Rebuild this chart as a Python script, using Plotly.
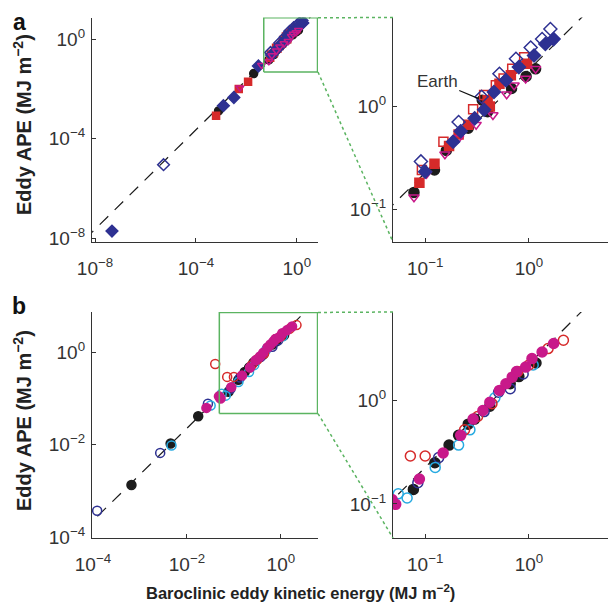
import math
import plotly.graph_objects as go

# ---------------- data ----------------
# Panel a (EKE, APE in MJ m^-2)
A_BLACK_X = [7.9e-4, 0.0195, 0.078, 0.123, 0.16, 0.26, 0.355, 0.40, 0.68, 0.94, 1.16]
A_BLACK_Y = [1.3e-3, 0.041, 0.145, 0.24, 0.37, 0.61, 1.14, 0.88, 1.48, 1.94, 2.3]
A_RED_X = [6.3e-4, 5.0e-3, 0.0117, 0.088, 0.123, 0.17, 0.21, 0.26, 0.40, 0.42, 0.52, 0.67, 0.96]
A_RED_Y = [8.3e-4, 9.8e-3, 0.0195, 0.18, 0.275, 0.41, 0.53, 0.66, 1.14, 0.99, 1.65, 1.99, 2.57]
A_REDO_X = [0.093, 0.15, 0.29, 0.37, 0.48, 0.57, 0.69, 0.90]
A_REDO_Y = [0.24, 0.45, 0.93, 1.28, 1.59, 1.85, 2.3, 2.98]
A_NAVY_X = [4.7e-8, 1.23e-3, 3.2e-3, 0.030, 0.10, 0.186, 0.22, 0.30, 0.37, 0.46, 0.60, 0.80, 1.12, 1.44, 1.73]
A_NAVY_Y = [1.9e-8, 2.1e-3, 4.5e-3, 0.083, 0.23, 0.45, 0.57, 0.76, 0.92, 1.37, 1.78, 2.39, 3.1, 4.0, 4.47]
A_NAVYO_X = [5.2e-6, 0.091, 0.21, 0.35, 0.52, 0.75, 1.04, 1.34, 1.61]
A_NAVYO_Y = [8.9e-6, 0.29, 0.70, 1.23, 2.06, 2.88, 3.7, 4.47, 5.6]
A_MAG_X = [5.5e-3, 0.04, 0.078, 0.103, 0.155, 0.21, 0.31, 0.45, 0.61, 0.72, 0.93, 1.16]
A_MAG_Y = [1.1e-2, 0.09, 0.13, 0.22, 0.34, 0.49, 0.66, 0.82, 1.3, 1.59, 1.85, 2.3]

# Panel b
B_BLACK_X = [6.6e-4, 4.5e-3, 0.0174, 0.077, 0.124, 0.17, 0.21, 0.26, 0.30, 0.42, 0.66, 0.80, 1.17]
B_BLACK_Y = [1.34e-3, 0.0105, 0.041, 0.138, 0.25, 0.37, 0.46, 0.59, 0.66, 0.88, 1.45, 1.7, 2.3]
B_NAVY_X = [1.23e-4, 2.7e-3, 0.028, 0.085, 0.135, 0.37, 0.51, 0.66, 0.88]
B_NAVY_Y = [3.7e-4, 6.6e-3, 0.076, 0.16, 0.28, 0.78, 1.2, 1.3, 1.8]
B_CYAN_X = [4.7e-3, 0.032, 0.055, 0.067, 0.125, 0.21, 0.27, 0.47, 1.1]
B_CYAN_Y = [9.5e-3, 0.07, 0.125, 0.114, 0.225, 0.37, 0.52, 1.06, 2.2]
B_RED_X = [0.04, 0.072, 0.10, 0.24, 0.32, 0.44, 0.78, 1.0, 1.53, 2.15]
B_RED_Y = [0.55, 0.29, 0.29, 0.52, 0.70, 0.93, 1.9, 2.2, 3.17, 3.82]
B_MAG_X = [0.026, 0.048, 0.052, 0.088, 0.149, 0.22, 0.29, 0.36, 0.42, 0.52, 0.60, 0.69, 0.76, 0.93, 1.07, 1.34, 1.73]
B_MAG_Y = [0.062, 0.11, 0.099, 0.174, 0.31, 0.46, 0.66, 0.8, 0.96, 1.25, 1.45, 1.68, 1.9, 2.1, 2.54, 2.94, 3.55]

# reference line APE = ratio * EKE
REF_RATIO = 2.25
REF_X = [1e-9, 1e1]

EARTH = (0.355, 1.14)

# tick labels
A_LEFT_TICKS = [1e-8, 1e-4, 1e0]
A_LEFT_TEXT = ["10<sup>\u22128</sup>", "10<sup>\u22124</sup>", "10<sup>0</sup>"]
B_LEFT_TICKS = [1e-4, 1e-2, 1e0]
B_LEFT_TEXT = ["10<sup>\u22124</sup>", "10<sup>\u22122</sup>", "10<sup>0</sup>"]
ZOOM_TICKS = [1e-1, 1e0]
ZOOM_TEXT = ["10<sup>\u22121</sup>", "10<sup>0</sup>"]

# ---------------- layout geometry ----------------
W, H = 616, 607
OFF = 8  # page body margin that shifts the figure on screen


def fx(px):
    return (px - OFF) / W


def fy(py):
    return 1 - (py - OFF) / H


L_DOM = [fx(92), fx(318)]
R_DOM = [fx(393), fx(614)]
A_DOM = [fy(242), fy(17.5)]
B_DOM = [fy(538), fy(312)]

AL_X = [-8.12, 0.84]
AL_Y = [-8.16, 0.87]
AR_X = [-1.31, 0.82]
AR_Y = [-1.32, 0.86]
BL_X = [-4.02, 0.79]
BL_Y = [-4.02, 0.865]
BR_X = [-1.31, 0.82]
BR_Y = [-1.33, 0.855]

BLACK = "#1c1c1c"
RED = "#d62a2a"
NAVY = "#2e3192"
MAG = "#c8198a"
CYAN = "#27aae1"
GREEN = "#5bb461"
AXC = "#333333"
FONT = "Liberation Sans, Arial, Helvetica, sans-serif"

fig = go.Figure()


def add_series(xs, ys, symbol, color, size, xa, ya, lw=1.5):
    fig.add_trace(go.Scatter(
        x=xs, y=ys, mode="markers", xaxis=xa, yaxis=ya, showlegend=False,
        marker=dict(symbol=symbol, size=size, color=color,
                    line=dict(color=color, width=lw)),
    ))


# reference dashed lines (drawn first, under markers)
for xa, ya in [("x", "y"), ("x2", "y2"), ("x3", "y3"), ("x4", "y4")]:
    fig.add_trace(go.Scatter(
        x=REF_X, y=[REF_RATIO * v for v in REF_X], mode="lines", xaxis=xa, yaxis=ya,
        showlegend=False, line=dict(color=BLACK, width=1.2, dash="12px,9px"),
    ))

# panel a, left (overview): magenta drawn last, as in the original
add_series(A_BLACK_X, A_BLACK_Y, "circle", BLACK, 8, "x", "y")
add_series(A_RED_X, A_RED_Y, "square", RED, 7, "x", "y")
add_series(A_REDO_X, A_REDO_Y, "square-open", RED, 7, "x", "y")
add_series(A_NAVY_X, A_NAVY_Y, "diamond", NAVY, 9, "x", "y")
add_series(A_NAVYO_X, A_NAVYO_Y, "diamond-open", NAVY, 9, "x", "y")
add_series(A_MAG_X, A_MAG_Y, "triangle-down-open", MAG, 7, "x", "y")
# panel a, right (zoom)
add_series(A_BLACK_X, A_BLACK_Y, "circle", BLACK, 10, "x2", "y2")
add_series(A_RED_X, A_RED_Y, "square", RED, 9, "x2", "y2")
add_series(A_REDO_X, A_REDO_Y, "square-open", RED, 9, "x2", "y2")
add_series(A_MAG_X, A_MAG_Y, "triangle-down-open", MAG, 9, "x2", "y2")
add_series(A_NAVY_X, A_NAVY_Y, "diamond", NAVY, 10, "x2", "y2")
add_series(A_NAVYO_X, A_NAVYO_Y, "diamond-open", NAVY, 10, "x2", "y2")

# panel b
for xa, ya, sz in [("x3", "y3", 9), ("x4", "y4", 10)]:
    add_series(B_BLACK_X, B_BLACK_Y, "circle", BLACK, sz, xa, ya)
    add_series(B_NAVY_X, B_NAVY_Y, "circle-open", NAVY, sz, xa, ya)
    add_series(B_CYAN_X, B_CYAN_Y, "circle-open", CYAN, sz, xa, ya)
    add_series(B_RED_X, B_RED_Y, "circle-open", RED, sz, xa, ya)
    add_series(B_MAG_X, B_MAG_Y, "circle", MAG, sz, xa, ya)


# green zoom boxes on the left panels (zoom range = right-panel range)
def zoom_box(xa, ya, zx, zy, lx, ly):
    x0, x1 = 10 ** zx[0], 10 ** min(zx[1], lx[1] - 0.01)
    y0, y1 = 10 ** zy[0], 10 ** min(zy[1], ly[1] - 0.01)
    fig.add_trace(go.Scatter(
        x=[x0, x1, x1, x0, x0], y=[y0, y0, y1, y1, y0], mode="lines",
        xaxis=xa, yaxis=ya, showlegend=False, line=dict(color=GREEN, width=1.5),
    ))


zoom_box("x", "y", AR_X, AR_Y, AL_X, AL_Y)
zoom_box("x3", "y3", BR_X, BR_Y, BL_X, BL_Y)


def yfrac(dom, rng, v):
    return dom[0] + (v - rng[0]) / (rng[1] - rng[0]) * (dom[1] - dom[0])


shapes = []
for dom, lrng, zr in [(A_DOM, AL_Y, AR_Y), (B_DOM, BL_Y, BR_Y)]:
    ytop = yfrac(dom, lrng, min(zr[1], lrng[1]))
    ybot = yfrac(dom, lrng, zr[0])
    shapes.append(dict(type="line", xref="paper", yref="paper",
                       x0=L_DOM[1], y0=ytop, x1=R_DOM[0], y1=dom[1],
                       line=dict(color=GREEN, width=1.5, dash="dot")))
    shapes.append(dict(type="line", xref="paper", yref="paper",
                       x0=L_DOM[1], y0=ybot, x1=R_DOM[0], y1=dom[0],
                       line=dict(color=GREEN, width=1.5, dash="dot")))


def axis(dom, rng, tv, tt, anchor):
    return dict(
        type="log", domain=dom, range=rng, anchor=anchor, automargin=False,
        showline=True, linecolor=AXC, linewidth=1.2, mirror=False,
        ticks="inside", ticklen=4, tickwidth=1, tickcolor=AXC,
        showgrid=False, zeroline=False,
        tickmode="array", tickvals=tv, ticktext=tt,
        tickfont=dict(family=FONT, size=19, color=AXC),
    )


xa1 = axis(L_DOM, AL_X, A_LEFT_TICKS, A_LEFT_TEXT, "y")
ya1 = axis(A_DOM, AL_Y, A_LEFT_TICKS, A_LEFT_TEXT, "x")
xa2 = axis(R_DOM, AR_X, ZOOM_TICKS, ZOOM_TEXT, "y2")
ya2 = axis(A_DOM, AR_Y, ZOOM_TICKS, ZOOM_TEXT, "x2")
xa3 = axis(L_DOM, BL_X, B_LEFT_TICKS, B_LEFT_TEXT, "y3")
ya3 = axis(B_DOM, BL_Y, B_LEFT_TICKS, B_LEFT_TEXT, "x3")
xa4 = axis(R_DOM, BR_X, ZOOM_TICKS, ZOOM_TEXT, "y4")
ya4 = axis(B_DOM, BR_Y, ZOOM_TICKS, ZOOM_TEXT, "x4")
for xa in (xa1, xa2, xa3, xa4):
    xa["ticklabelstandoff"] = 9
for ya in (ya1, ya2, ya3, ya4):
    ya["ticklabelstandoff"] = 2

ytitle = "<b>Eddy APE (MJ m<sup>\u22122</sup>)</b>"
annotations = [
    dict(text="<b>a</b>", x=fx(19), y=fy(OFF), xref="paper", yref="paper",
         showarrow=False, font=dict(family=FONT, size=23, color="#111"),
         xanchor="center", yanchor="top", borderpad=0),
    dict(text="<b>b</b>", x=fx(19), y=fy(306), xref="paper", yref="paper",
         showarrow=False, font=dict(family=FONT, size=23, color="#111"),
         xanchor="center", yanchor="middle"),
    dict(text=ytitle, x=fx(22), y=fy(125), xref="paper", yref="paper",
         textangle=-90, showarrow=False, font=dict(family=FONT, size=20, color="#222"),
         xanchor="center", yanchor="middle"),
    dict(text=ytitle, x=fx(22), y=fy(421), xref="paper", yref="paper",
         textangle=-90, showarrow=False, font=dict(family=FONT, size=20, color="#222"),
         xanchor="center", yanchor="middle"),
    dict(text="<b>Baroclinic eddy kinetic energy (MJ m<sup>\u22122</sup>)</b>",
         x=fx(300), y=fy(592), xref="paper", yref="paper", showarrow=False,
         font=dict(family=FONT, size=16.5, color="#222"),
         xanchor="center", yanchor="middle"),
    dict(text="Earth", x=math.log10(EARTH[0]), y=math.log10(EARTH[1]),
         xref="x2", yref="y2", showarrow=True, arrowhead=0, arrowwidth=1.2,
         arrowcolor="#111", ax=-45, ay=-19, standoff=4,
         font=dict(family=FONT, size=17, color="#333")),
]

fig.update_layout(
    template="none",
    width=W, height=H, margin=dict(l=0, r=0, t=0, b=0, pad=0, autoexpand=False),
    paper_bgcolor="white", plot_bgcolor="white", showlegend=False,
    xaxis=xa1, yaxis=ya1, xaxis2=xa2, yaxis2=ya2,
    xaxis3=xa3, yaxis3=ya3, xaxis4=xa4, yaxis4=ya4,
    shapes=shapes, annotations=annotations,
)

fig.write_html("out.html")
